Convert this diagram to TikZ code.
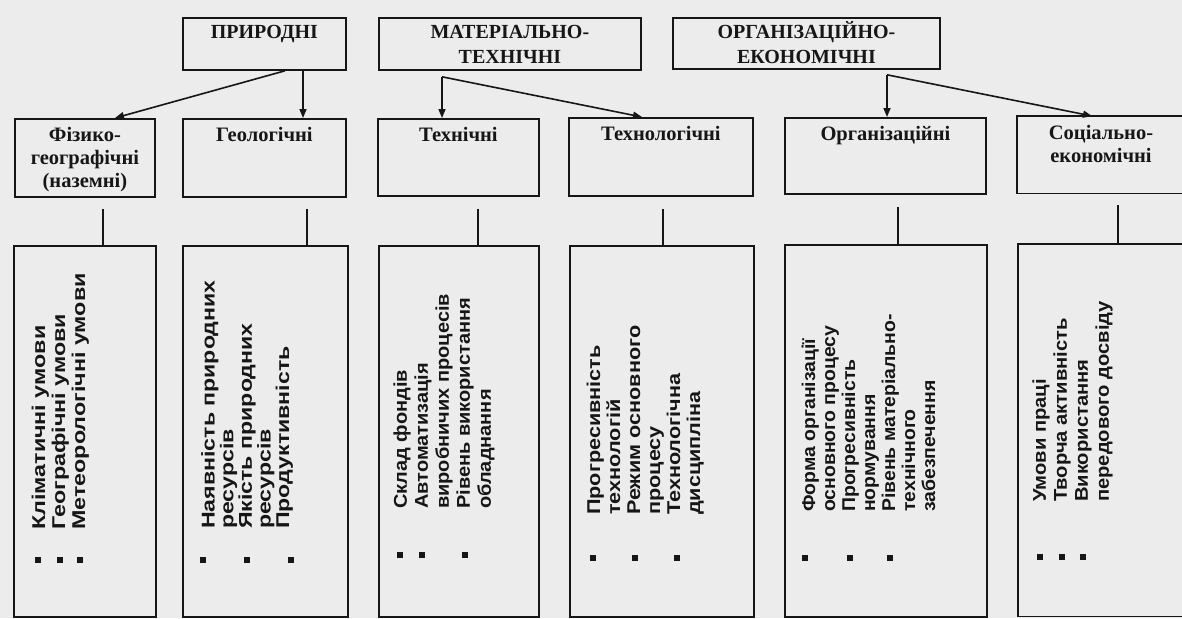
\documentclass[tikz,border=0pt]{standalone}
\usepackage{fontspec}
\usepackage{graphicx}
\setmainfont{Liberation Serif}
\newfontfamily\rotfont{Liberation Sans}
\usetikzlibrary{arrows.meta,calc}
\definecolor{bg}{RGB}{236,236,236}
\definecolor{ink}{RGB}{22,22,22}
\newcommand\rotlist[3]{\scalebox{#1}[1]{\fontsize{18.5}{#2}\selectfont\begin{tabular}{@{}l@{}}#3\end{tabular}}}
\begin{document}
\begin{tikzpicture}[x=1pt,y=-1pt,
  box/.style={draw=ink, line width=1.8pt, inner sep=0pt, anchor=north west, rectangle},
  openbox/.style={draw=none, inner sep=0pt, anchor=north west, rectangle},
  toplbl/.style={anchor=north, inner sep=0pt, align=center, text=ink, font=\bfseries\fontsize{20}{25}\selectfont},
  midlbl/.style={anchor=north, inner sep=0pt, align=center, text=ink, font=\bfseries\fontsize{20.5}{23}\selectfont},
  rot/.style={rotate=90, anchor=north west, inner sep=0pt, text=ink, font=\rotfont\bfseries},
  dotm/.style={fill=ink, minimum size=6pt, inner sep=0pt, rectangle},
  arr/.style={draw=ink, line width=1.6pt, -{Triangle[length=9pt,width=7pt]}},
  conn/.style={draw=ink, line width=1.6pt},
  edge3/.style={draw=ink, line width=1.8pt}]
\fill[bg] (0,0) rectangle (1182,618);
\useasboundingbox (0,0) rectangle (1182,618);

% top boxes
\node[box, minimum width=163pt, minimum height=52pt] (t1) at (182,17) {};
\node[box, minimum width=262pt, minimum height=52pt] (t2) at (378,17) {};
\node[box, minimum width=267pt, minimum height=51pt] (t3) at (672,17) {};
\node[toplbl] (t1l) at ([yshift=-8pt]t1.north) {ПРИРОДНІ};
\node[toplbl] (t2l) at ([yshift=-8pt]t2.north) {МАТЕРІАЛЬНО-\\ТЕХНІЧНІ};
\node[toplbl] (t3l) at ([yshift=-4pt]t3.north) {ОРГАНІЗАЦІЙНО-\\ЕКОНОМІЧНІ};

% middle boxes
\node[box, minimum width=140pt, minimum height=78pt] (m1) at (14,118) {};
\node[box, minimum width=163pt, minimum height=78pt] (m2) at (182,118) {};
\node[box, minimum width=161pt, minimum height=77pt] (m3) at (377,118) {};
\node[box, minimum width=184pt, minimum height=78pt] (m4) at (568,117) {};
\node[box, minimum width=201pt, minimum height=76pt] (m5) at (784,117) {};
\node[openbox, minimum width=190pt, minimum height=77pt] (m6) at (1017,116) {};
\draw[edge3] (m6.north east) -- (m6.north west) -- (m6.south west) -- (m6.south east);
\node[midlbl] (m1l) at ([yshift=-9pt]m1.north) {Фізико-\\географічні\\(наземні)};
\node[midlbl] (m2l) at ([yshift=-9pt]m2.north) {Геологічні};
\node[midlbl] (m3l) at ([yshift=-9pt]m3.north) {Технічні};
\node[midlbl] (m4l) at ([yshift=-9pt]m4.north) {Технологічні};
\node[midlbl] (m5l) at ([yshift=-9pt]m5.north) {Організаційні};
\node[midlbl] (m6l) at ([xshift=84pt,yshift=-9pt]m6.north west) {Соціально-\\економічні};

% bottom boxes
\node[box, minimum width=142pt, minimum height=371pt] (b1) at (13,245) {};
\node[box, minimum width=165pt, minimum height=371pt] (b2) at (182,245) {};
\node[box, minimum width=160pt, minimum height=371pt] (b3) at (378,245) {};
\node[box, minimum width=184pt, minimum height=371pt] (b4) at (569,245) {};
\node[box, minimum width=202pt, minimum height=372pt] (b5) at (784,244) {};
\node[openbox, minimum width=190pt, minimum height=372pt] (b6) at (1018,244) {};
\draw[edge3] (b6.north east) -- (b6.north west) -- (b6.south west) -- (b6.south east);

% arrows top -> middle
\draw[arr] ([xshift=103pt]t1.south west) -- ([xshift=101pt]m1.north west);
\draw[arr] ([xshift=121pt]t1.south west) -- ([xshift=121pt]m2.north west);
\draw[arr] ([xshift=64pt,yshift=-6pt]t2.south west) -- ([xshift=65pt]m3.north west);
\draw[arr] ([xshift=64pt,yshift=-6pt]t2.south west) -- ([xshift=74pt]m4.north west);
\draw[arr] ([xshift=215pt,yshift=-5pt]t3.south west) -- ([xshift=103pt]m5.north west);
\draw[arr] ([xshift=215pt,yshift=-5pt]t3.south west) -- ([xshift=75pt]m6.north west);

% connectors middle -> bottom
\draw[conn] ([xshift=89pt,yshift=-11pt]m1.south west) -- ([xshift=90pt]b1.north west);
\draw[conn] ([xshift=125pt,yshift=-11pt]m2.south west) -- ([xshift=125pt]b2.north west);
\draw[conn] ([xshift=101pt,yshift=-12pt]m3.south west) -- ([xshift=100pt]b3.north west);
\draw[conn] ([xshift=95pt,yshift=-12pt]m4.south west) -- ([xshift=94pt]b4.north west);
\draw[conn] ([xshift=114pt,yshift=-12pt]m5.south west) -- ([xshift=114pt]b5.north west);
\draw[conn] ([xshift=101pt,yshift=-12pt]m6.south west) -- ([xshift=100pt]b6.north west);

% rotated lists
\node[rot] (b1t) at (31,530) {\rotlist{1.26}{20}{Кліматичні умови\\Географічні умови\\Метеорологічні умови}};
\node[rot] (b2t) at (201,529) {\rotlist{1.25}{17.5}{Наявність природних\\ресурсів\\Якість природних\\ресурсів\\Продуктивність}};
\node[rot] (b3t) at (392,509) {\rotlist{1.08}{21}{Склад фондів\\Автоматизація\\виробничих процесів\\Рівень використання\\обладнання}};
\node[rot] (b4t) at (586,515) {\rotlist{1.17}{20}{Прогресивність\\технологій\\Режим основного\\процесу\\Технологічна\\дисципліна}};
\node[rot] (b5t) at (801,512) {\rotlist{1.05}{20}{Форма організації\\основного процесу\\Прогресивність\\нормування\\Рівень матеріально-\\технічного\\забезпечення}};
\node[rot] (b6t) at (1031,502) {\rotlist{1.09}{21}{Умови праці\\Творча активність\\Використання\\передового досвіду}};

% bullets
\foreach \n/\x/\y in {b1d1/38/560, b1d2/60/560, b1d3/80/560,
  b2d1/203/560, b2d2/247/560, b2d3/291/560,
  b3d1/400/555, b3d2/422/555, b3d3/465/555,
  b4d1/593/558, b4d2/635/558, b4d3/677/558,
  b5d1/805/558, b5d2/850/558, b5d3/890/558,
  b6d1/1040/557, b6d2/1062/557, b6d3/1083/557}
  \node[dotm] (\n) at (\x,\y) {};
\end{tikzpicture}
\end{document}
